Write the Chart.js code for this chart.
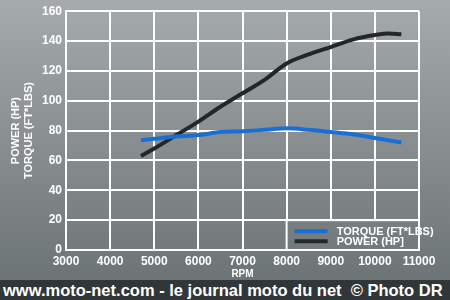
<!DOCTYPE html>
<html>
<head>
<meta charset="utf-8">
<script src="https://cdn.jsdelivr.net/npm/chart.js@4/dist/chart.umd.min.js"></script>
<style>
  html, body { margin: 0; padding: 0; width: 450px; height: 300px; overflow: hidden; background: #6f7677; }
  #wrap { width: 450px; height: 280px; }
  #footer {
    height: 20px; background: #313638; color: #fff;
    font: bold 16.5px "Liberation Sans", Arial, sans-serif;
    line-height: 20px; padding-left: 3px; white-space: nowrap;
  }
</style>
</head>
<body>
<div id="wrap"><canvas id="engineChart" width="450" height="280"></canvas></div>
<div id="footer">www.moto-net.com - le journal moto du net &nbsp;© Photo DR</div>
<script>
var rpm    = [4700, 5000, 5500, 6000, 6500, 7000, 7500, 8000, 8500, 9000, 9500, 10000, 10300, 10600];
var torque = [73.5, 74.5, 76, 77, 79, 79.5, 80.5, 81.5, 80.5, 79, 77.5, 75, 73.5, 72];
var power  = [63, 68, 77, 86, 96, 105, 114, 125, 131, 136, 141, 144, 145, 144.5];
var xRange = [3000, 11000, 1000];   // min, max, step of the RPM ticks
var yRange = [0, 160, 20];

var labelFont = "'Liberation Sans Narrow', 'Liberation Sans', Arial, sans-serif";

function toPoints(values) {
  return rpm.map(function (r, i) { return { x: r, y: values[i] }; });
}

var bgPlugin = {
  id: 'bg',
  beforeDraw: function (chart) {
    var ctx = chart.ctx;
    var g = ctx.createLinearGradient(0, 0, 0, 280);
    g.addColorStop(0, '#a5aaab');
    g.addColorStop(1, '#6d7475');
    chart.$bg = g;
    ctx.save();
    ctx.fillStyle = g;
    ctx.fillRect(0, 0, chart.width, chart.height);
    ctx.restore();
  },
  beforeDatasetsDraw: function (chart) {
    // legend box covers the lower right cells of the grid
    var ctx = chart.ctx, x = chart.scales.x, y = chart.scales.y;
    var l = x.getPixelForValue(8000), r = x.getPixelForValue(11000);
    var t = y.getPixelForValue(20), b = y.getPixelForValue(0);
    ctx.save();
    ctx.fillStyle = chart.$bg;
    ctx.fillRect(l, t, r - l, b - t);
    ctx.strokeStyle = '#ffffff';
    ctx.lineWidth = 2;
    ctx.strokeRect(l, t, r - l, b - t);
    ctx.font = 'bold 11px ' + labelFont;
    ctx.textBaseline = 'middle';
    chart.data.datasets.forEach(function (ds, i) {
      var yy = t + 11 + i * 10;
      ctx.strokeStyle = ds.borderColor;
      ctx.lineWidth = 4;
      ctx.beginPath();
      ctx.moveTo(l + 8, yy);
      ctx.lineTo(l + 41, yy);
      ctx.stroke();
      ctx.fillStyle = '#ffffff';
      ctx.fillText(ds.label, l + 50, yy + 1);
    });
    ctx.restore();
  }
};

new Chart(document.getElementById('engineChart'), {
  type: 'line',
  data: {
    datasets: [{
      label: 'TORQUE (FT*LBS)',
      data: toPoints(torque),
      borderColor: '#1a6fd6',
      borderWidth: 4,
      pointRadius: 0,
      cubicInterpolationMode: 'monotone',
      fill: false
    }, {
      label: 'POWER (HP]',
      data: toPoints(power),
      borderColor: '#23272c',
      borderWidth: 4,
      pointRadius: 0,
      cubicInterpolationMode: 'monotone',
      fill: false
    }]
  },
  options: {
    responsive: false,
    animation: false,
    layout: { padding: { top: 8, right: 31, left: 0, bottom: 0 } },
    plugins: {
      legend: { display: false },
      tooltip: { enabled: false }
    },
    scales: {
      x: {
        type: 'linear',
        min: xRange[0],
        max: xRange[1],
        grid: { color: '#ffffff', lineWidth: 2, drawTicks: false },
        border: { color: '#ffffff', width: 2 },
        ticks: {
          stepSize: xRange[2],
          color: '#ffffff',
          padding: 4,
          maxRotation: 0,
          autoSkip: false,
          font: { family: labelFont, size: 12, weight: 'bold' },
          callback: function (v) { return String(v); }
        },
        title: {
          display: true,
          text: 'RPM',
          color: '#ffffff',
          padding: { top: 1, bottom: 0 },
          font: { family: labelFont, size: 10, weight: 'bold' }
        },
        afterFit: function (s) { s.height = 30; }
      },
      y: {
        min: yRange[0],
        max: yRange[1],
        grid: { color: '#ffffff', lineWidth: 2, drawTicks: false },
        border: { color: '#ffffff', width: 2 },
        ticks: {
          stepSize: yRange[2],
          color: '#ffffff',
          padding: 4,
          font: { family: labelFont, size: 12, weight: 'bold' }
        },
        title: {
          display: true,
          text: ['POWER (HP)', 'TORQUE (FT*LBS)'],
          color: '#ffffff',
          padding: { top: 9, bottom: 4 },
          font: { family: labelFont, size: 11, weight: 'bold', lineHeight: 1.2 }
        },
        afterFit: function (s) { s.width = 66; }
      }
    }
  },
  plugins: [bgPlugin]
});
</script>
</body>
</html>
